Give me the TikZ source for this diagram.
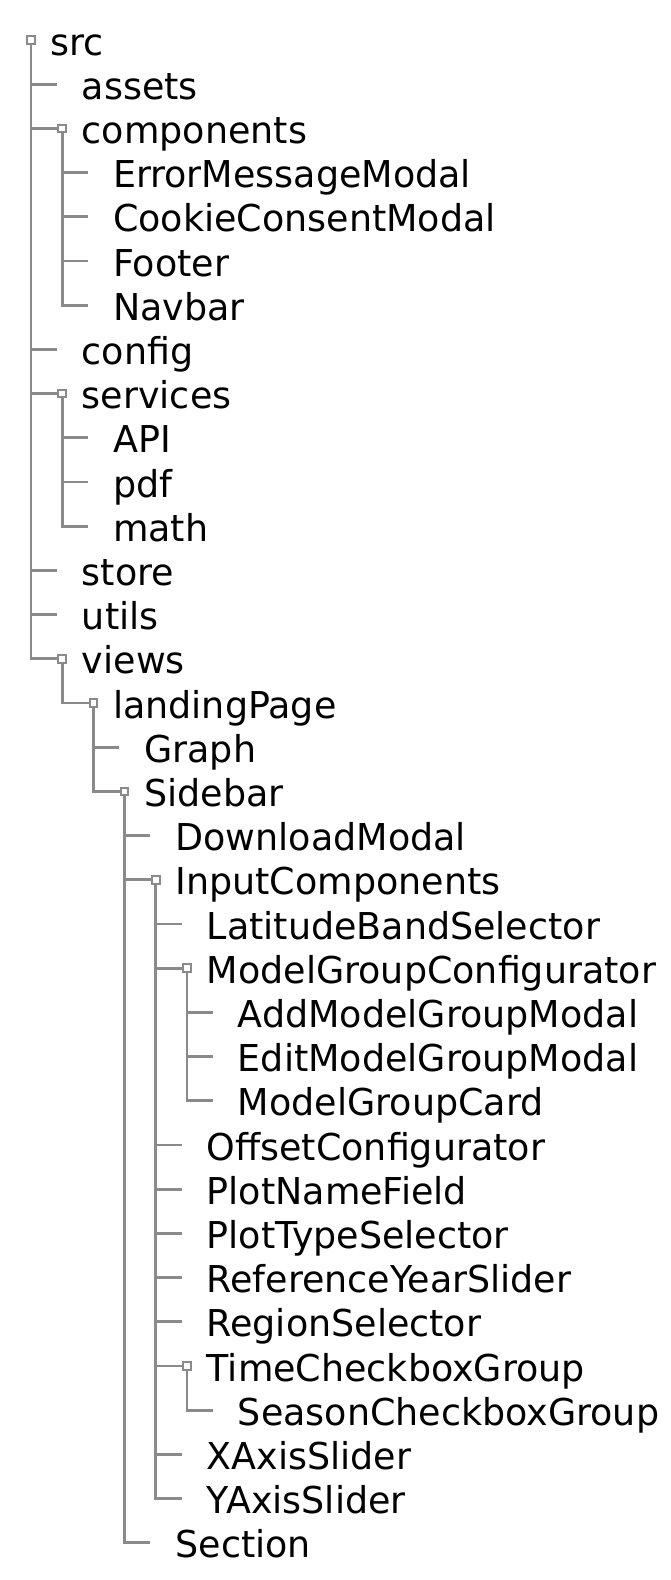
\documentclass[tikz,border=0pt]{standalone}
\usepackage{fontspec}
\setmainfont[FakeStretch=0.985]{DejaVu Sans}
\definecolor{treegray}{HTML}{8A8A8A}
\newcommand{\fitem}[4]{%
  \node[sqbox] (q#3) at ({31+31.2*#1},{40+44.2*#2}) {};
  \node[lbl] (#3) at ({50.5+31.2*#1},{55+44.2*#2}) {#4};}
\newcommand{\litem}[4]{%
  \coordinate (q#3) at ({25.5+31.2*#1},{40+44.2*#2});
  \node[lbl] (#3) at ({50.5+31.2*#1},{55+44.2*#2}) {#4};}
\begin{document}
\begin{tikzpicture}[x=1pt,y=-1pt,
  sqbox/.style={draw=treegray,fill=white,line width=2pt,minimum size=7.5pt,inner sep=0pt,outer sep=0pt},
  lbl/.style={anchor=base west,inner sep=0pt,font=\fontsize{37}{40}\selectfont},
  conn/.style={draw=treegray,line width=2.8pt}]
\useasboundingbox (0,0) rectangle (671,1580);
\fitem{0}{0}{src}{src}
\litem{1}{1}{assets}{assets}
\fitem{1}{2}{components}{components}
\litem{2}{3}{errmod}{ErrorMessageModal}
\litem{2}{4}{cookie}{CookieConsentModal}
\litem{2}{5}{footer}{Footer}
\litem{2}{6}{navbar}{Navbar}
\litem{1}{7}{config}{config}
\fitem{1}{8}{services}{services}
\litem{2}{9}{api}{API}
\litem{2}{10}{pdf}{pdf}
\litem{2}{11}{math}{math}
\litem{1}{12}{store}{store}
\litem{1}{13}{utils}{utils}
\fitem{1}{14}{views}{views}
\fitem{2}{15}{landing}{landingPage}
\litem{3}{16}{graph}{Graph}
\fitem{3}{17}{sidebar}{Sidebar}
\litem{4}{18}{download}{DownloadModal}
\fitem{4}{19}{input}{InputComponents}
\litem{5}{20}{latitude}{LatitudeBandSelector}
\fitem{5}{21}{mgc}{ModelGroupConfigurator}
\litem{6}{22}{addmg}{AddModelGroupModal}
\litem{6}{23}{editmg}{EditModelGroupModal}
\litem{6}{24}{mgcard}{ModelGroupCard}
\litem{5}{25}{offset}{OffsetConfigurator}
\litem{5}{26}{plotname}{PlotNameField}
\litem{5}{27}{plottype}{PlotTypeSelector}
\litem{5}{28}{refyear}{ReferenceYearSlider}
\litem{5}{29}{region}{RegionSelector}
\fitem{5}{30}{timecb}{TimeCheckboxGroup}
\litem{6}{31}{seasoncb}{SeasonCheckboxGroup}
\litem{5}{32}{xaxis}{XAxisSlider}
\litem{5}{33}{yaxis}{YAxisSlider}
\litem{4}{34}{section}{Section}
% connectors
\foreach \c in {assets,components,config,services,store,utils,views}
  \draw[conn] (qsrc) |- (q\c);
\foreach \c in {errmod,cookie,footer,navbar}
  \draw[conn] (qcomponents) |- (q\c);
\foreach \c in {api,pdf,math}
  \draw[conn] (qservices) |- (q\c);
\draw[conn] (qviews) |- (qlanding);
\foreach \c in {graph,sidebar}
  \draw[conn] (qlanding) |- (q\c);
\foreach \c in {download,input,section}
  \draw[conn] (qsidebar) |- (q\c);
\foreach \c in {latitude,mgc,offset,plotname,plottype,refyear,region,timecb,xaxis,yaxis}
  \draw[conn] (qinput) |- (q\c);
\foreach \c in {addmg,editmg,mgcard}
  \draw[conn] (qmgc) |- (q\c);
\draw[conn] (qtimecb) |- (qseasoncb);
\end{tikzpicture}
\end{document}
